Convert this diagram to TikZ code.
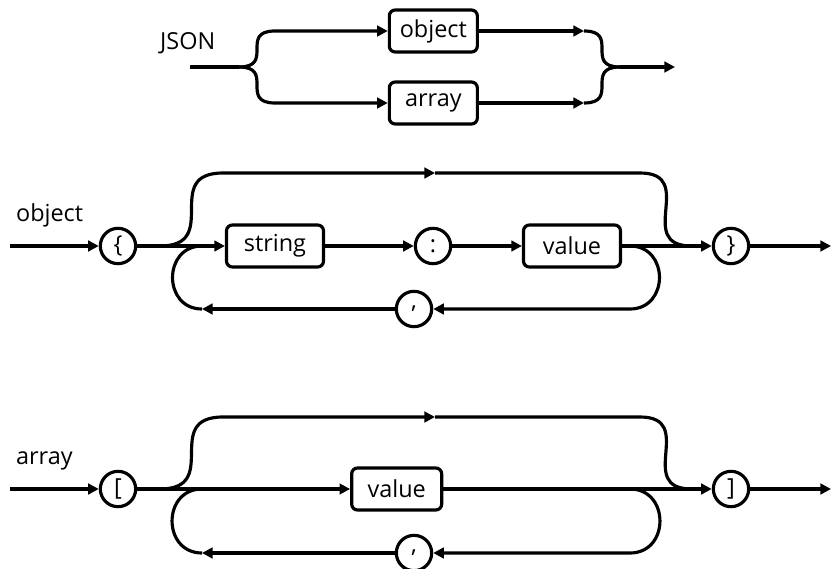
\documentclass[tikz,border=0pt]{standalone}
\usepackage{fontspec}
\setmainfont{Open Sans}
\usepackage{tikz}
\usetikzlibrary{arrows.meta, positioning}

\begin{document}
\begin{tikzpicture}[
    nonterm/.style={draw,rounded corners=5pt,line width=2.7pt,minimum height=1.26cm,
      inner sep=2pt,font=\fontsize{20}{24}\selectfont},
    term/.style={draw,circle,line width=2.7pt,minimum size=1.06cm,inner sep=0pt,
      font=\fontsize{20}{24}\selectfont},
    rulename/.style={anchor=base west,font=\fontsize{20}{24}\selectfont},
    track/.style={line width=2.7pt},
    arrow/.style={track,-{Triangle[length=9pt,width=9pt]}}
  ]
  \useasboundingbox (0,0) rectangle (24.99,-17.07);

  % JSON
  \node[rulename] (jsonlbl) at (4.68,-1.5) {JSON};
  \node[nonterm,minimum width=2.64cm] (jobj) at (13.0,-0.93) {object};
  \node[nonterm,minimum width=2.64cm] (jarr) at (13.0,-3.09) {array};
  \coordinate (jin) at (5.7,-2.01);
  \coordinate (jsplit) at (7.17,-2.01);
  \coordinate (jup) at (8.25,-0.93);
  \coordinate (jlo) at (8.25,-3.09);
  \coordinate (jupr) at (17.52,-0.93);
  \coordinate (jlor) at (17.52,-3.09);
  \coordinate (jjoin) at (18.6,-2.01);
  \coordinate (jout) at (20.25,-2.01);

  \draw[track] (jin) -- (jsplit);
  \draw[arrow] (jsplit) to[out=0,in=180,looseness=1.8] (jup) -- (jobj);
  \draw[arrow] (jsplit) to[out=0,in=180,looseness=1.8] (jlo) -- (jarr);
  \draw[arrow] (jobj) -- (jupr);
  \draw[arrow] (jarr) -- (jlor);
  \draw[track] (jupr) to[out=0,in=180,looseness=1.8] (jjoin);
  \draw[track] (jlor) to[out=0,in=180,looseness=1.8] (jjoin);
  \draw[arrow] (jjoin) -- (jout);

  % object
  \node[rulename] (objlbl) at (0.36,-6.66) {object};
  \node[term] (olb) at (3.54,-7.38) {\{};
  \node[nonterm,minimum width=2.91cm] (ostr) at (8.25,-7.38) {string};
  \node[term] (ocol) at (12.99,-7.38) {:};
  \node[nonterm,minimum width=2.91cm] (oval) at (17.16,-7.38) {value};
  \node[term] (orb) at (21.93,-7.38) {\}};
  \node[term] (ocom) at (12.42,-9.27) {,};
  \coordinate (oin) at (0.3,-7.38);
  \coordinate (oout) at (24.93,-7.38);
  \coordinate (obyl) at (4.8,-7.38);
  \coordinate (otopl) at (6.69,-5.19);
  \coordinate (otopa) at (13.05,-5.19);
  \coordinate (otopr) at (19.2,-5.19);
  \coordinate (obyr) at (20.75,-7.38);
  \coordinate (oloopr) at (18.9,-7.38);
  \coordinate (oloopbr) at (18.9,-9.27);
  \coordinate (oloopbl) at (6.06,-9.27);
  \coordinate (oloopl) at (6.06,-7.38);

  \draw[arrow] (oin) -- (olb);
  \draw[arrow] (olb) -- (ostr);
  \draw[arrow] (ostr) -- (ocol);
  \draw[arrow] (ocol) -- (oval);
  \draw[arrow] (oval) -- (orb);
  \draw[arrow] (orb) -- (oout);
  \draw[arrow] (obyl) to[out=0,in=180,looseness=1.65] (otopl) -- (otopa);
  \draw[track] (otopa) -- (otopr) to[out=0,in=180,looseness=1.65] (obyr);
  \draw[arrow] (oloopr) to[out=0,in=0,looseness=1.6] (oloopbr) -- (ocom);
  \draw[arrow] (ocom) -- (oloopbl);
  \draw[track] (oloopbl) to[out=180,in=180,looseness=1.6] (oloopl);

  % array
  \node[rulename] (arrlbl) at (0.36,-13.95) {array};
  \node[term] (alb) at (3.54,-14.67) {[};
  \node[nonterm,minimum width=2.7cm] (aval) at (11.9,-14.67) {value};
  \node[term] (arb) at (21.93,-14.67) {]};
  \node[term] (acom) at (12.42,-16.59) {,};
  \coordinate (ain) at (0.3,-14.67);
  \coordinate (aout) at (24.93,-14.67);
  \coordinate (abyl) at (4.8,-14.67);
  \coordinate (atopl) at (6.69,-12.51);
  \coordinate (atopa) at (13.05,-12.51);
  \coordinate (atopr) at (19.2,-12.51);
  \coordinate (abyr) at (20.75,-14.67);
  \coordinate (aloopr) at (18.9,-14.67);
  \coordinate (aloopbr) at (18.9,-16.59);
  \coordinate (aloopbl) at (6.06,-16.59);
  \coordinate (aloopl) at (6.06,-14.67);

  \draw[arrow] (ain) -- (alb);
  \draw[arrow] (alb) -- (aval);
  \draw[arrow] (aval) -- (arb);
  \draw[arrow] (arb) -- (aout);
  \draw[arrow] (abyl) to[out=0,in=180,looseness=1.65] (atopl) -- (atopa);
  \draw[track] (atopa) -- (atopr) to[out=0,in=180,looseness=1.65] (abyr);
  \draw[arrow] (aloopr) to[out=0,in=0,looseness=1.6] (aloopbr) -- (acom);
  \draw[arrow] (acom) -- (aloopbl);
  \draw[track] (aloopbl) to[out=180,in=180,looseness=1.6] (aloopl);

\end{tikzpicture}
\end{document}
